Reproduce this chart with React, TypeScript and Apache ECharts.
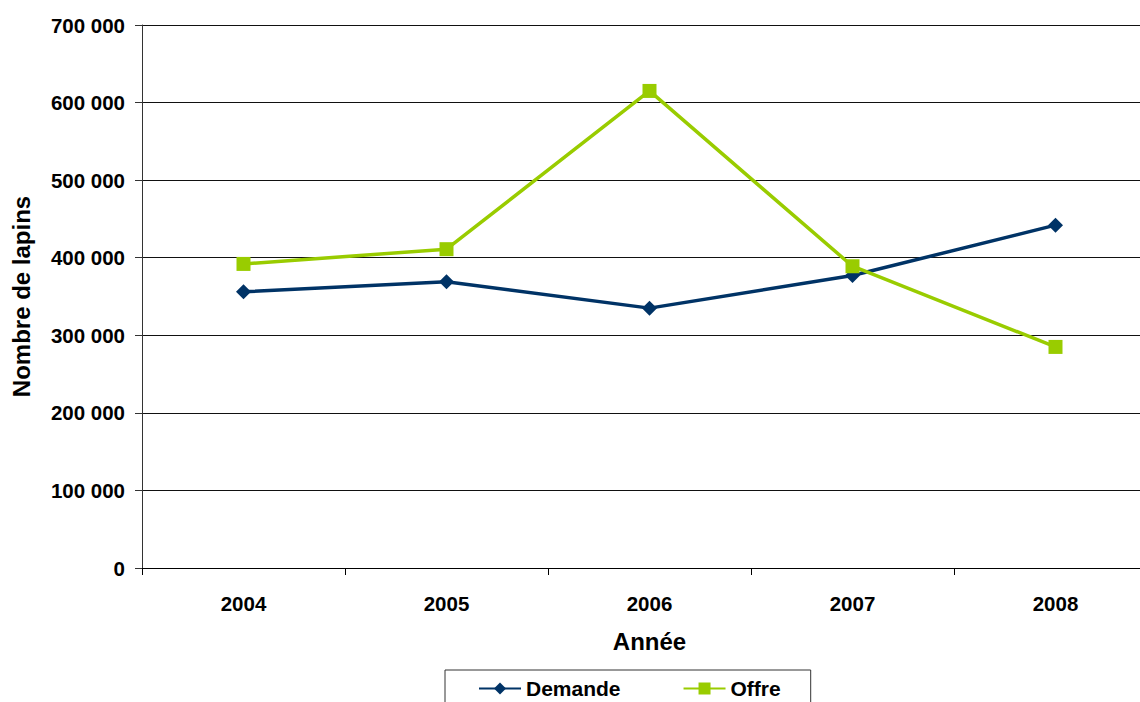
import React, { useEffect, useRef } from "react";
import * as echarts from "echarts";

const years = ["2004", "2005", "2006", "2007", "2008"];
const demande = [356000, 369000, 335000, 377000, 442000];
const offre = [392000, 411000, 615000, 389000, 285000];

const FONT = "'Liberation Sans', Arial, sans-serif";

export default function App() {
  const ref = useRef<HTMLDivElement>(null);
  useEffect(() => {
    if (!ref.current) return;
    const chart = echarts.init(ref.current, undefined, { renderer: "svg" });
    chart.setOption({
      animation: false,
      backgroundColor: "#ffffff",
      textStyle: { fontFamily: FONT },
      grid: { left: 142, right: -17, top: 25, bottom: 134, containLabel: false, outerBoundsMode: "none" },
      legend: {
        data: ["Demande", "Offre"],
        left: 445,
        top: 670,
        orient: "horizontal",
        itemWidth: 42,
        itemHeight: 15,
        itemGap: 62,
        padding: [8, 30, 12, 33],
        borderColor: "#333333",
        borderWidth: 1,
        textStyle: { fontFamily: FONT, fontWeight: "bold", fontSize: 21, color: "#000" },
      },
      xAxis: {
        type: "category",
        data: years,
        boundaryGap: true,
        name: "Année",
        nameLocation: "middle",
        nameGap: 61,
        nameTextStyle: { fontFamily: FONT, fontWeight: "bold", fontSize: 24, color: "#000" },
        axisLine: { lineStyle: { color: "#000", width: 1 } },
        axisTick: { show: true, length: 7, lineStyle: { color: "#000" } },
        axisLabel: { fontFamily: FONT, fontWeight: "bold", fontSize: 20.5, color: "#000", margin: 25 },
        splitLine: { show: false },
      },
      yAxis: {
        type: "value",
        min: 0,
        max: 700000,
        interval: 100000,
        name: "Nombre de lapins",
        nameLocation: "middle",
        nameGap: 109,
        nameTextStyle: { fontFamily: FONT, fontWeight: "bold", fontSize: 24, color: "#000" },
        axisLine: { show: true, lineStyle: { color: "#333", width: 1 } },
        axisTick: { show: true, length: 7, lineStyle: { color: "#333" } },
        axisLabel: {
          fontFamily: FONT,
          fontWeight: "bold",
          fontSize: 20.5,
          color: "#000",
          margin: 17,
          formatter: (v: number) => (v === 0 ? "0" : String(v / 1000) + " 000"),
        },
        splitLine: { show: true, lineStyle: { color: "#111", width: 1 } },
      },
      series: [
        {
          name: "Demande",
          type: "line",
          data: demande,
          symbol: "diamond",
          symbolSize: 15,
          lineStyle: { color: "#003366", width: 3.5 },
          itemStyle: { color: "#003366" },
        },
        {
          name: "Offre",
          type: "line",
          data: offre,
          symbol: "rect",
          symbolSize: 14,
          lineStyle: { color: "#99CC00", width: 3.5 },
          itemStyle: { color: "#99CC00" },
        },
      ],
    });
    return () => chart.dispose();
  }, []);
  return <div ref={ref} style={{ width: 1140, height: 702, position: "absolute", left: 0, top: 0 }} />;
}
